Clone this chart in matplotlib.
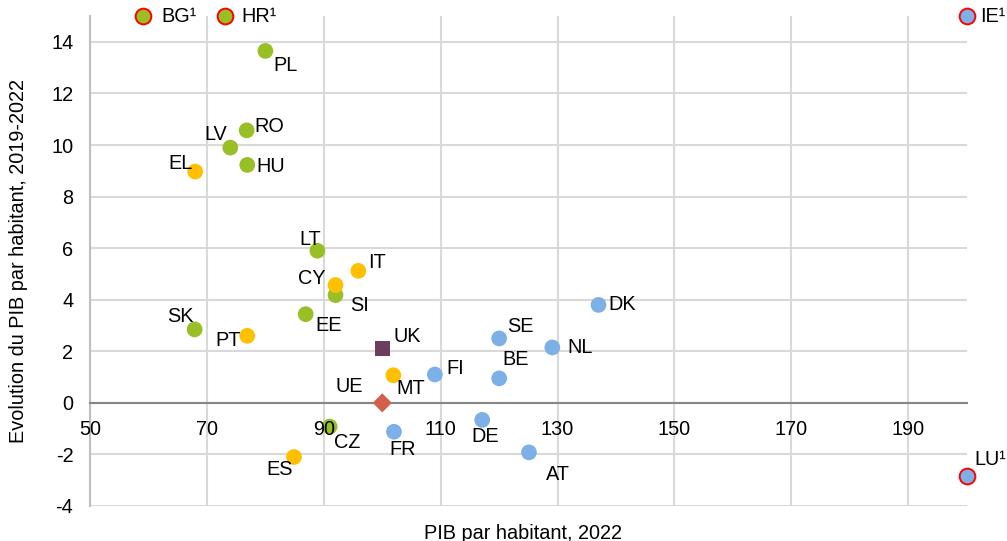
import matplotlib
matplotlib.use("Agg")
import matplotlib.pyplot as plt

plt.rcParams['font.family'] = ['Liberation Sans', 'DejaVu Sans']

# ---- data ----
countries = ["PL", "RO", "LV", "HU", "LT", "SI", "EE", "SK", "CZ",
             "EL", "IT", "CY", "PT", "MT", "ES",
             "DK", "SE", "NL", "BE", "FI", "DE", "FR", "AT",
             "UK", "UE", "BG¹", "HR¹", "IE¹", "LU¹"]
gdp_2022 = [80, 76.8, 74, 76.9, 88.9, 92, 86.9, 67.9, 91,
            68, 95.9, 92, 76.9, 101.9, 84.9,
            137, 120, 129.1, 120, 109, 117.1, 102, 125.1,
            100, 100, 59.1, 73.1, 200, 200]
growth = [13.65, 10.57, 9.9, 9.23, 5.9, 4.18, 3.44, 2.85, -0.92,
          8.97, 5.12, 4.57, 2.6, 1.07, -2.1,
          3.8, 2.5, 2.15, 0.95, 1.1, -0.66, -1.12, -1.92,
          2.12, 0.0, 15, 15, 15, -2.85]
groups = ["green"] * 9 + ["yellow"] * 6 + ["blue"] * 8 + ["uk", "eu", "green_out", "green_out", "blue_out", "blue_out"]

x_ticks = [50, 70, 90, 110, 130, 150, 170, 190]
y_ticks = [-4, -2, 0, 2, 4, 6, 8, 10, 12, 14]

# ---- styling ----
FS = 14.3
GREEN = "#99BF26"
YELLOW = "#FFC000"
BLUE = "#7CB0E6"
styles = {
    "green": dict(marker="o", s=128, color=GREEN, edgecolors="none"),
    "yellow": dict(marker="o", s=128, color=YELLOW, edgecolors="none"),
    "blue": dict(marker="o", s=128, color=BLUE, edgecolors="none"),
    "uk": dict(marker="s", s=115, color="#6B3E5C", edgecolors="none"),
    "eu": dict(marker="D", s=95, color="#D3604A", edgecolors="none"),
    "green_out": dict(marker="o", s=128, color=GREEN, edgecolors="#FF0000", linewidths=1.4),
    "blue_out": dict(marker="o", s=128, color=BLUE, edgecolors="#FF0000", linewidths=1.4),
}
# label offsets in pixels (dx, dy, ha)
offsets = {
    "PL": (8, -15, "left"), "RO": (8, 4, "left"),
    "LV": (-3, 13, "right"), "HU": (9, -2, "left"),
    "LT": (4, 11, "right"), "SI": (15, -10, "left"),
    "EE": (10, -11, "left"), "SK": (-1, 13, "right"),
    "CZ": (4, -16, "left"), "EL": (-3, 8, "right"),
    "IT": (10, 8, "left"), "CY": (-10, 7, "right"),
    "PT": (-6, -5, "right"), "MT": (3, -13, "left"),
    "ES": (-1, -12, "right"), "DK": (10, 0, "left"),
    "SE": (8, 12, "left"), "NL": (15, 0, "left"),
    "BE": (3, 19, "left"), "FI": (12, 6, "left"),
    "DE": (-11, -17, "left"), "FR": (-5, -18, "left"),
    "AT": (17, -22, "left"), "UK": (11, 12, "left"),
    "UE": (-19, 16, "right"), "BG¹": (18, 0, "left"),
    "HR¹": (16, 0, "left"), "IE¹": (13, 0, "left"),
    "LU¹": (8, 17, "left"),
}

fig = plt.figure(figsize=(10.07, 5.41), dpi=100)
ax = fig.add_axes([0.0894, 0.0647, 0.8706, 0.9055])

ax.set_xlim(50, 200)
ax.set_ylim(-4, 15)
ax.set_xticks(x_ticks)
ax.set_xticklabels([])
ax.set_yticks(y_ticks)
ax.set_yticklabels([str(v) for v in y_ticks])
ax.grid(True, color="#D9D9D9", linewidth=1.5, zorder=0)
ax.set_axisbelow(True)

for sp in ["top", "right"]:
    ax.spines[sp].set_visible(False)
ax.spines["left"].set_color("#BFBFBF")
ax.spines["left"].set_linewidth(1.5)
ax.spines["bottom"].set_position(("data", 0))
ax.spines["bottom"].set_color("#868686")
ax.spines["bottom"].set_linewidth(1.5)
ax.tick_params(axis="both", length=0, labelsize=FS, colors="#000000")
ax.tick_params(axis="y", pad=12)

# x tick labels drawn on top of the markers (as in the reference)
for xt in x_ticks:
    ax.annotate(str(xt), (xt, 0), xytext=(0, -17), textcoords="offset pixels",
                ha="center", va="top", fontsize=FS, annotation_clip=False, zorder=6)

for c, x, y, g in zip(countries, gdp_2022, growth, groups):
    ax.scatter([x], [y], zorder=3, clip_on=False, **styles[g])
    dx, dy, ha = offsets[c]
    ax.annotate(c, (x, y), xytext=(dx, dy), textcoords="offset pixels",
                ha=ha, va="center", fontsize=FS, annotation_clip=False, zorder=4)

ax.set_xlabel("PIB par habitant, 2022", fontsize=FS, labelpad=0)
ax.xaxis.set_label_coords(0.494, -0.036)
ax.xaxis.label.set_va("top")
ax.set_ylabel("Evolution du PIB par habitant, 2019-2022", fontsize=FS)
ax.yaxis.set_label_coords(-0.071, 0.5)

fig.savefig("out.png", dpi=100)
